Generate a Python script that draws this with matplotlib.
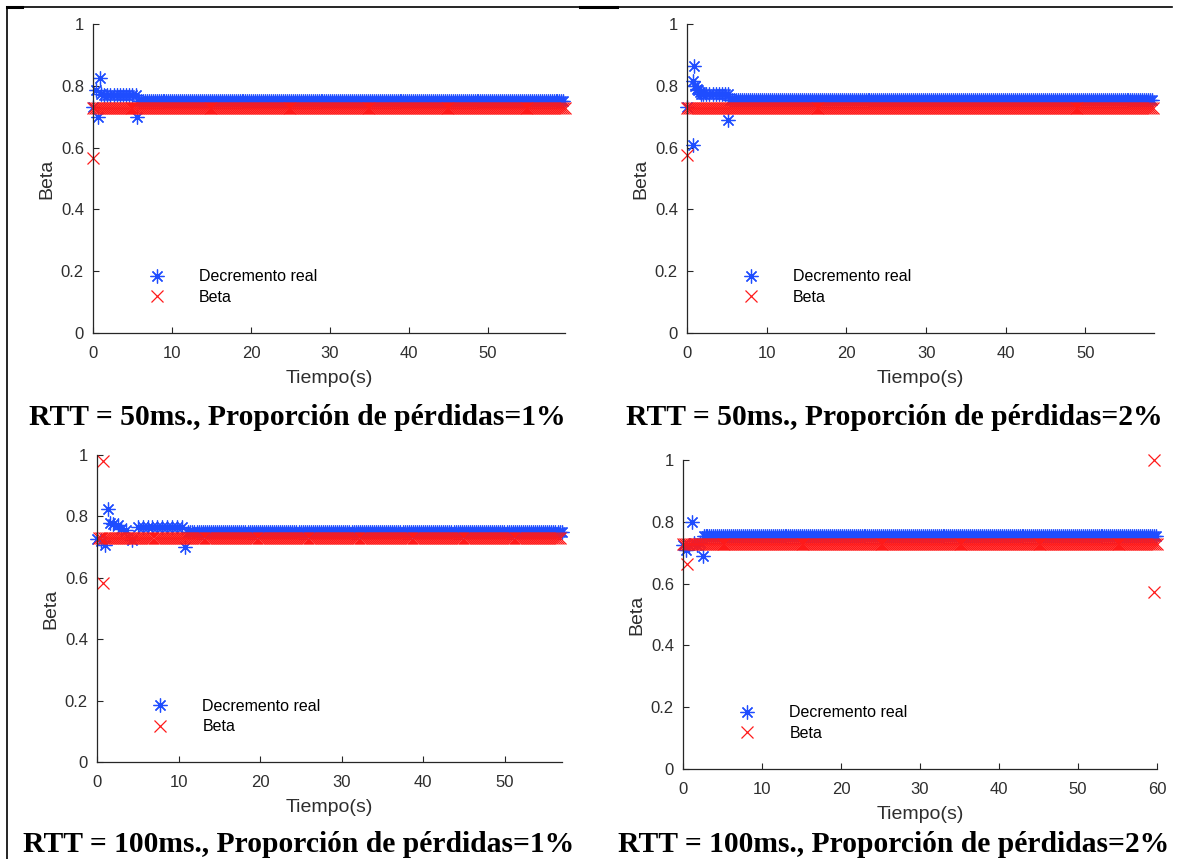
import numpy as np
import matplotlib
matplotlib.use("Agg")
import matplotlib.pyplot as plt
from matplotlib.lines import Line2D

# ---------------------------------------------------------------------------
# Data: Beta estimate vs. measured window decrement ("Decremento real")
# Each panel: early transient samples + steady plateau (level, start, end)
# ---------------------------------------------------------------------------

# RTT = 50 ms, 1 % loss
p1_real_t = [0.0, 0.4, 0.6, 0.9, 1.0, 1.4, 1.8, 2.2, 2.6, 3.0, 3.4, 3.8, 4.2, 4.6, 5.0, 5.4, 5.6]
p1_real_v = [0.73, 0.785, 0.70, 0.825, 0.775, 0.77, 0.77, 0.77, 0.77, 0.77, 0.77, 0.77, 0.77, 0.77, 0.77, 0.77, 0.70]
p1_real_plateau = (0.752, 5.8, 59.75)
p1_beta_t = [0.0]
p1_beta_v = [0.565]
p1_beta_plateau = (0.728, 0.0, 59.75)
p1_xmax = 59.75

# RTT = 50 ms, 2 % loss
p2_real_t = [0.0, 0.75, 0.8, 0.9, 1.0, 1.2, 1.4, 1.6, 1.8, 2.0, 2.4, 2.8, 3.2, 3.6, 4.0, 4.4, 4.8, 5.1, 5.2]
p2_real_v = [0.73, 0.61, 0.815, 0.865, 0.80, 0.79, 0.785, 0.78, 0.775, 0.775, 0.775, 0.775, 0.775, 0.775, 0.775, 0.775, 0.775, 0.69, 0.775]
p2_real_plateau = (0.755, 5.4, 58.6)
p2_beta_t = [0.0]
p2_beta_v = [0.575]
p2_beta_plateau = (0.728, 0.0, 58.6)
p2_xmax = 58.6

# RTT = 100 ms, 1 % loss
p3_real_t = [0.0, 0.5, 1.0, 1.35, 1.6, 2.0, 2.6, 3.0, 3.5, 4.3, 5.0, 5.6, 6.2, 6.8, 7.4, 8.0, 8.6, 9.2, 9.8, 10.4, 10.8]
p3_real_v = [0.725, 0.72, 0.707, 0.824, 0.78, 0.775, 0.772, 0.76, 0.755, 0.723, 0.765, 0.765, 0.765, 0.765, 0.765, 0.765, 0.765, 0.765, 0.765, 0.765, 0.70]
p3_real_plateau = (0.749, 11.2, 57.0)
p3_beta_t = [0.7, 0.7]
p3_beta_v = [0.98, 0.583]
p3_beta_plateau = (0.73, 0.3, 57.0)
p3_xmax = 57.0

# RTT = 100 ms, 2 % loss
p4_real_t = [0.0, 0.4, 0.8, 1.1, 1.4, 1.8, 2.2, 2.5]
p4_real_v = [0.725, 0.709, 0.725, 0.80, 0.73, 0.725, 0.73, 0.69]
p4_real_plateau = (0.754, 2.6, 60.0)
p4_beta_t = [0.5, 59.6, 59.6]
p4_beta_v = [0.663, 1.0, 0.573]
p4_beta_plateau = (0.728, 0.0, 60.0)
p4_xmax = 60.0

x_ticks_short = [0, 10, 20, 30, 40, 50]
x_ticks_long = [0, 10, 20, 30, 40, 50, 60]
y_ticks = [0, 0.2, 0.4, 0.6, 0.8, 1.0]
y_tick_labels = ["0", "0.2", "0.4", "0.6", "0.8", "1"]

captions = [
    "RTT = 50ms., Proporción de pérdidas=1%",
    "RTT = 50ms., Proporción de pérdidas=2%",
    "RTT = 100ms., Proporción de pérdidas=1%",
    "RTT = 100ms., Proporción de pérdidas=2%",
]

SAMPLE_STEP = 0.25  # reporting interval of the steady-state samples (s)

BLUE = "#1f4dff"
RED = "#ff1a1a"
TEXT = "#2e2e2e"
ASTERISK = (8, 2, 0)

W, H = 1189, 859
fig = plt.figure(figsize=(W / 100, H / 100), dpi=100)
plt.rcParams["font.family"] = ["Liberation Sans", "DejaVu Sans"]


def series(t_list, v_list, plateau):
    level, t0, t1 = plateau
    tp = np.arange(t0, t1 + 1e-9, SAMPLE_STEP)
    t = np.concatenate([np.asarray(t_list, float), tp])
    v = np.concatenate([np.asarray(v_list, float), np.full(tp.shape, level)])
    return t, v


def px_axes(left, right, top, bottom):
    return fig.add_axes([left / W, 1 - bottom / H, (right - left) / W, (bottom - top) / H])


panels = [
    ((93, 565, 24, 333), p1_real_t, p1_real_v, p1_real_plateau, p1_beta_t, p1_beta_v, p1_beta_plateau, p1_xmax, x_ticks_short),
    ((687, 1154, 24, 333), p2_real_t, p2_real_v, p2_real_plateau, p2_beta_t, p2_beta_v, p2_beta_plateau, p2_xmax, x_ticks_short),
    ((97, 562, 455, 762), p3_real_t, p3_real_v, p3_real_plateau, p3_beta_t, p3_beta_v, p3_beta_plateau, p3_xmax, x_ticks_short),
    ((683, 1157, 460, 769), p4_real_t, p4_real_v, p4_real_plateau, p4_beta_t, p4_beta_v, p4_beta_plateau, p4_xmax, x_ticks_long),
]

caption_pos = [(297, 417), (894, 417), (299, 845), (894, 845)]

for i, (box, rt, rv, rp, bt, bv, bp, xmax, xt) in enumerate(panels):
    ax = px_axes(*box)
    t_real, v_real = series(rt, rv, rp)
    t_beta, v_beta = series(bt, bv, bp)
    ax.plot(t_real, v_real, linestyle="none", marker=ASTERISK, markersize=10,
            markeredgewidth=0.9, color=BLUE, clip_on=False, label="Decremento real")
    ax.plot(t_beta, v_beta, linestyle="none", marker="x", markersize=9,
            markeredgewidth=0.9, color=RED, clip_on=False, label="Beta")
    ax.set_xlim(0, xmax)
    ax.set_ylim(0, 1)
    ax.set_xticks(xt)
    ax.set_yticks(y_ticks)
    ax.set_yticklabels(y_tick_labels)
    for s in ("top", "right"):
        ax.spines[s].set_visible(False)
    for s in ("left", "bottom"):
        ax.spines[s].set_linewidth(0.9)
        ax.spines[s].set_color("#262626")
    ax.tick_params(direction="in", length=4, width=0.8, labelsize=12,
                   labelcolor=TEXT, color="#262626")
    ax.tick_params(axis="y", pad=6.5)
    ax.tick_params(axis="x", pad=9.5)
    ax.set_xlabel("Tiempo(s)", fontsize=14, color=TEXT, labelpad=6)
    ax.set_ylabel("Beta", fontsize=14, color=TEXT, labelpad=4)
    ax.legend(loc="upper left", bbox_to_anchor=(0.102, 0.206), frameon=False,
              fontsize=11.5, handlelength=2, handletextpad=1.63, borderpad=0,
              borderaxespad=0, labelspacing=0.35)
    cx, cy = caption_pos[i]
    fig.text(cx / W, 1 - cy / H, captions[i], ha="center", va="center",
             fontsize=21.3, fontweight="bold", family=["Liberation Serif", "DejaVu Serif"])

# table rules framing the panels
frame = [
    Line2D([7 / W, 7 / W], [1 - 7 / H, 0], lw=1.2, color="black"),
    Line2D([7 / W, 1172 / W], [1 - 7 / H, 1 - 7 / H], lw=1.2, color="black"),
    Line2D([7 / W, 22 / W], [1 - 7 / H, 1 - 7 / H], lw=2.2, color="black"),
    Line2D([580 / W, 617 / W], [1 - 7 / H, 1 - 7 / H], lw=2.2, color="black"),
]
for ln in frame:
    fig.add_artist(ln)

fig.savefig("out.png", dpi=100, facecolor="white")
